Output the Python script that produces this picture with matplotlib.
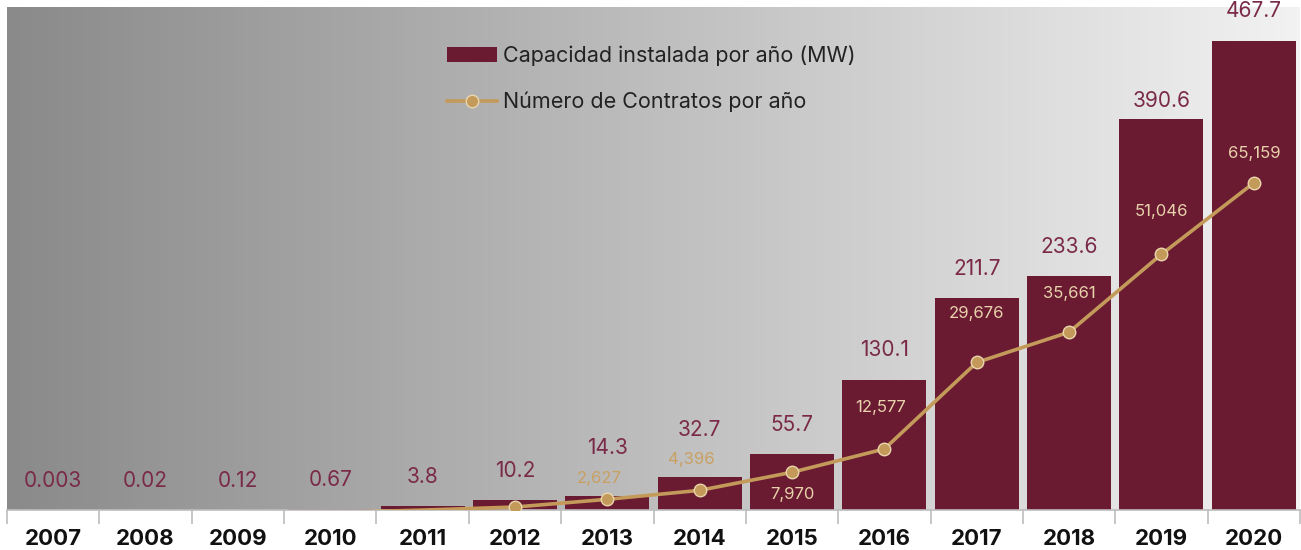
import numpy as np
import matplotlib.pyplot as plt
from matplotlib.colors import LinearSegmentedColormap

# Datos
years = ['2007', '2008', '2009', '2010', '2011', '2012', '2013',
         '2014', '2015', '2016', '2017', '2018', '2019', '2020']
capacidad = [0.003, 0.02, 0.12, 0.67, 3.8, 10.2, 14.3,
             32.7, 55.7, 130.1, 211.7, 233.6, 390.6, 467.7]
cap_labels = ['0.003', '0.02', '0.12', '0.67', '3.8', '10.2', '14.3',
              '32.7', '55.7', '130.1', '211.7', '233.6', '390.6', '467.7']

# contratos (los primeros puntos quedan bajo el eje)
contrato_years = ['2010', '2011', '2012', '2013', '2014', '2015', '2016',
                  '2017', '2018', '2019', '2020']
contratos = [0, 500, 1100, 2627, 4396, 7970, 12577, 29676, 35661, 51046, 65159]
contrato_labels = ['', '', '', '2,627', '4,396', '7,970', '12,577',
                   '29,676', '35,661', '51,046', '65,159']

bar_color = '#6a1b32'
bar_text = '#7a2a48'
line_color = '#c49a5a'

plt.rcParams['font.family'] = ['Inter', 'DejaVu Sans']

fig = plt.figure(figsize=(13.01, 5.5), dpi=100)
ax = fig.add_axes([7 / 1301, 40 / 550, 1293 / 1301, 503 / 550])

x = np.arange(len(years))
ax.set_xlim(-0.5, len(years) - 0.5)
ax.set_ylim(0, 502)

# fondo degradado
grad = np.linspace(0, 1, 256).reshape(1, -1)
bg = LinearSegmentedColormap.from_list('bg', ['#8a8a8a', '#f2f2f2'])
ax.imshow(grad, extent=[-0.5, len(years) - 0.5, 0, 502], aspect='auto',
          cmap=bg, zorder=0)

ax.bar(x, capacidad, width=0.91, color=bar_color, zorder=2,
       label='Capacidad instalada por año (MW)')

# etiquetas de barras (desplazamiento en puntos)
bar_offsets = {'2013': 34, '2014': 34, '2019': 13, '2020': 22}
for i, (v, t) in enumerate(zip(capacidad, cap_labels)):
    off = bar_offsets.get(years[i], 21)
    ax.annotate(t, (x[i], v), xytext=(0, off), textcoords='offset points',
                ha='center', va='center', fontsize=15, color=bar_text,
                zorder=5, annotation_clip=False)

# eje secundario para contratos
ax2 = ax.twinx()
ax2.set_ylim(514, 99914)
cx = [years.index(y) for y in contrato_years]
ax2.plot(cx, contratos, color=line_color, lw=2.6, marker='o', ms=9,
         mfc=line_color, mec='#ead6ae', mew=1,
         markevery=list(range(2, len(cx))),
         zorder=4, label='Número de Contratos por año')

line_offsets = {'2013': (-6, 15), '2014': (-6, 22), '2015': (0, -16),
                '2016': (-3, 30), '2017': (0, 35), '2018': (0, 28),
                '2019': (0, 31), '2020': (0, 21)}
for xi, yr, v, t in zip(cx, contrato_years, contratos, contrato_labels):
    if not t:
        continue
    inside = yr not in ('2013', '2014')
    dx, dy = line_offsets[yr]
    ax2.annotate(t, (xi, v), xytext=(dx, dy), textcoords='offset points',
                 ha='center', va='center', fontsize=12,
                 color='#e8d2ab' if inside else '#c9a062', zorder=6)

ax2.set_yticks([])
for a in (ax, ax2):
    for s in ['top', 'right', 'left']:
        a.spines[s].set_visible(False)
ax2.spines['bottom'].set_visible(False)
ax.spines['bottom'].set_color('#bdbdbd')
ax.spines['bottom'].set_linewidth(1.2)

ax.set_yticks([])
ax.set_xticks(x)
ax.set_xticklabels(years, fontsize=16, fontweight='bold', color='#111111')
ax.tick_params(axis='x', which='major', length=0, pad=14)
ax.set_xticks(np.arange(-0.5, len(years)), minor=True)
ax.tick_params(axis='x', which='minor', length=10, color='#bdbdbd', width=1.2)

# leyenda
h1, l1 = ax.get_legend_handles_labels()
h2, l2 = ax2.get_legend_handles_labels()
leg = ax2.legend(h1 + h2, l1 + l2, loc='upper left',
                 bbox_to_anchor=(0.325, 0.962), frameon=False, fontsize=15.5,
                 handlelength=2.35, handleheight=0.75, labelspacing=1.2,
                 handletextpad=0.28, labelcolor='#222222')

fig.savefig('out.png', dpi=100)
